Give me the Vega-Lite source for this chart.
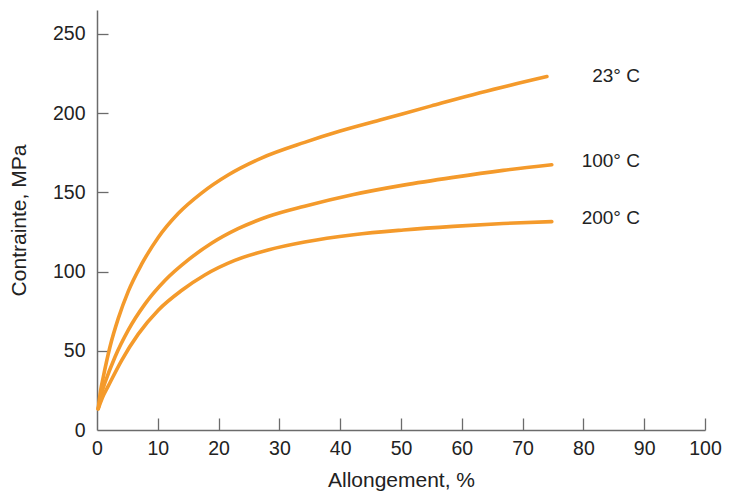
{
  "$schema": "https://vega.github.io/schema/vega-lite/v6.json",
  "autosize": "none",
  "width": 608,
  "height": 420,
  "padding": {"left": 97, "top": 10, "right": 46, "bottom": 65},
  "background": "white",
  "config": {
    "view": {"stroke": null},
    "font": "Liberation Sans",
    "axis": {
      "grid": false,
      "domainColor": "#6b6b6b",
      "domainWidth": 1.5,
      "tickColor": "#6b6b6b",
      "tickWidth": 1.3,
      "labelColor": "#222222",
      "labelFont": "Liberation Sans",
      "labelFontSize": 19.5,
      "titleFont": "Liberation Sans",
      "titleFontSize": 21,
      "titleFontWeight": "normal",
      "titleColor": "#222222"
    }
  },
  "datasets": {
    "curves": [
      {"serie": "23", "x": 0.2, "y": 13.4},
      {"serie": "23", "x": 0.6, "y": 25.0},
      {"serie": "23", "x": 1.03, "y": 33.4},
      {"serie": "23", "x": 2.13, "y": 52.4},
      {"serie": "23", "x": 3.5, "y": 70.4},
      {"serie": "23", "x": 5.14, "y": 87.5},
      {"serie": "23", "x": 7.34, "y": 104.6},
      {"serie": "23", "x": 10.07, "y": 121.5},
      {"serie": "23", "x": 13.35, "y": 136.6},
      {"serie": "23", "x": 17.19, "y": 149.5},
      {"serie": "23", "x": 21.56, "y": 160.9},
      {"serie": "23", "x": 27.04, "y": 171.6},
      {"serie": "23", "x": 34.15, "y": 181.5},
      {"serie": "23", "x": 40.0, "y": 188.6},
      {"serie": "23", "x": 47.0, "y": 196.0},
      {"serie": "23", "x": 55.0, "y": 204.5},
      {"serie": "23", "x": 63.0, "y": 212.8},
      {"serie": "23", "x": 74.0, "y": 223.0},
      {"serie": "100", "x": 0.2, "y": 13.4},
      {"serie": "100", "x": 0.77, "y": 23.5},
      {"serie": "100", "x": 1.31, "y": 29.8},
      {"serie": "100", "x": 2.96, "y": 46.1},
      {"serie": "100", "x": 5.14, "y": 63.0},
      {"serie": "100", "x": 7.88, "y": 79.4},
      {"serie": "100", "x": 11.17, "y": 94.3},
      {"serie": "100", "x": 15.0, "y": 107.3},
      {"serie": "100", "x": 18.83, "y": 117.8},
      {"serie": "100", "x": 23.2, "y": 127.0},
      {"serie": "100", "x": 28.13, "y": 134.7},
      {"serie": "100", "x": 34.15, "y": 141.2},
      {"serie": "100", "x": 42.2, "y": 148.6},
      {"serie": "100", "x": 50.4, "y": 154.5},
      {"serie": "100", "x": 58.6, "y": 159.4},
      {"serie": "100", "x": 66.8, "y": 163.8},
      {"serie": "100", "x": 74.8, "y": 167.4},
      {"serie": "200", "x": 0.2, "y": 13.4},
      {"serie": "200", "x": 0.9, "y": 20.5},
      {"serie": "200", "x": 1.86, "y": 27.8},
      {"serie": "200", "x": 4.06, "y": 44.0},
      {"serie": "200", "x": 6.78, "y": 60.5},
      {"serie": "200", "x": 10.07, "y": 75.6},
      {"serie": "200", "x": 13.9, "y": 88.0},
      {"serie": "200", "x": 17.73, "y": 97.8},
      {"serie": "200", "x": 22.66, "y": 107.0},
      {"serie": "200", "x": 28.13, "y": 113.6},
      {"serie": "200", "x": 34.15, "y": 118.6},
      {"serie": "200", "x": 42.2, "y": 123.2},
      {"serie": "200", "x": 50.4, "y": 126.2},
      {"serie": "200", "x": 58.6, "y": 128.5},
      {"serie": "200", "x": 66.8, "y": 130.3},
      {"serie": "200", "x": 74.8, "y": 131.5}
    ],
    "labels": [
      {"label": "23° C", "x": 89.3, "y": 223.3},
      {"label": "100° C", "x": 89.3, "y": 169.5},
      {"label": "200° C", "x": 89.3, "y": 133.9}
    ]
  },
  "resolve": {"axis": {"x": "independent", "y": "independent"}},
  "layer": [
    {
      "data": {"name": "curves"},
      "mark": {"type": "line", "color": "#F49A2B", "strokeWidth": 3.6, "interpolate": "monotone", "strokeCap": "round"},
      "encoding": {
        "x": {
          "field": "x", "type": "quantitative",
          "scale": {"domain": [0, 100], "nice": false, "zero": false},
          "axis": {
            "orient": "bottom",
            "title": "Allongement, %",
            "values": [0, 10, 20, 30, 40, 50, 60, 70, 80, 90, 100],
            "ticks": false,
            "labelPadding": 9,
            "titlePadding": 12,
            "labelFlush": false
          }
        },
        "y": {
          "field": "y", "type": "quantitative",
          "scale": {"domain": [0, 265], "nice": false},
          "axis": {
            "orient": "left",
            "title": "Contrainte, MPa",
            "values": [0, 50, 100, 150, 200, 250],
            "ticks": false,
            "labelPadding": 12,
            "titlePadding": 23,
            "labelFlush": false
          }
        },
        "detail": {"field": "serie", "type": "nominal"}
      }
    },
    {
      "data": {"name": "labels"},
      "mark": {"type": "text", "align": "right", "baseline": "middle", "fontSize": 19, "font": "Liberation Sans", "color": "#222222"},
      "encoding": {
        "x": {
          "field": "x", "type": "quantitative",
          "scale": {"domain": [0, 100], "nice": false, "zero": false},
          "axis": {
            "orient": "top",
            "offset": -420,
            "title": null,
            "labels": false,
            "domain": false,
            "values": [10, 20, 30, 40, 50, 60, 70, 80, 90, 100],
            "ticks": true,
            "tickSize": 12
          }
        },
        "y": {
          "field": "y", "type": "quantitative",
          "scale": {"domain": [0, 265], "nice": false},
          "axis": {
            "orient": "right",
            "offset": -608,
            "title": null,
            "labels": false,
            "domain": false,
            "values": [50, 100, 150, 200, 250],
            "ticks": true,
            "tickSize": 11
          }
        },
        "text": {"field": "label", "type": "nominal"}
      }
    }
  ]
}
